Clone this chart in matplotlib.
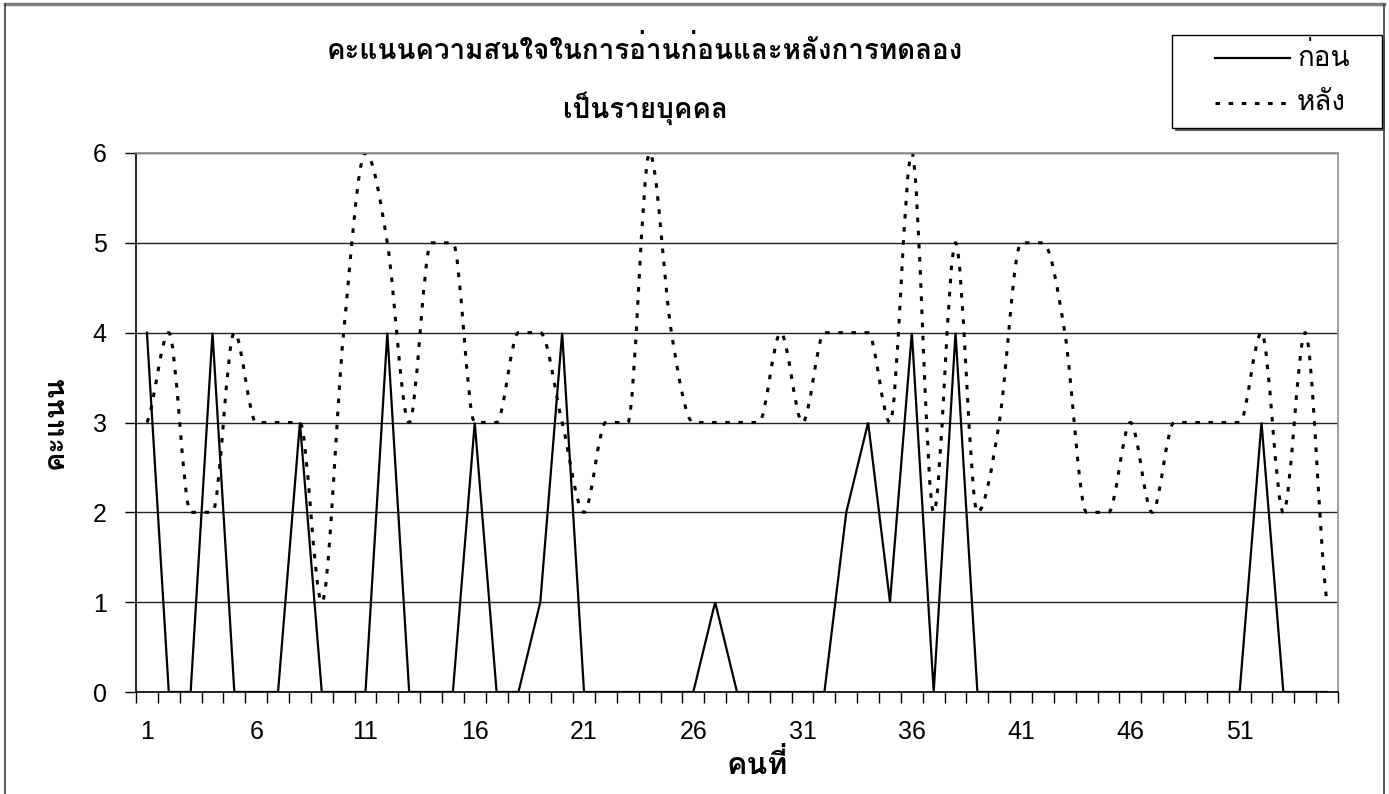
import numpy as np
import matplotlib
matplotlib.use('Agg')
import matplotlib.pyplot as plt
import matplotlib.font_manager as fm
from matplotlib.ft2font import FT2Font
from matplotlib.path import Path
from matplotlib.patches import PathPatch, Rectangle
from matplotlib.lines import Line2D

# ข้อมูล
person = list(range(1, 56))
before = [4, 0, 0, 4, 0, 0, 0, 3, 0, 0, 0, 4, 0, 0, 0, 3, 0, 0, 1, 4,
          0, 0, 0, 0, 0, 0, 1, 0, 0, 0, 0, 0, 2, 3, 1, 4, 0, 4, 0, 0,
          0, 0, 0, 0, 0, 0, 0, 0, 0, 0, 0, 3, 0, 0, 0]
after = [3, 4, 2, 2, 4, 3, 3, 3, 1, 4, 6, 5, 3, 5, 5, 3, 3, 4, 4, 3,
         2, 3, 3, 6, 4, 3, 3, 3, 3, 4, 3, 4, 4, 4, 3, 6, 2, 5, 2, 3,
         5, 5, 4, 2, 2, 3, 2, 3, 3, 3, 3, 4, 2, 4, 1]
xtick_labels = [1, 6, 11, 16, 21, 26, 31, 36, 41, 46, 51]
title = 'คะแนนความสนใจในการอ่านก่อนและหลังการทดลอง\nเป็นรายบุคคล'
legend_labels = ['ก่อน', 'หลัง']


# หา font ที่มีอักษรไทย
def find_thai_font():
    names = []
    for f in fm.fontManager.ttflist:
        try:
            cmap = FT2Font(f.fname).get_charmap()
        except Exception:
            continue
        if 0x0E01 in cmap and f.name not in names:
            names.append(f.name)
    return names


thai = find_thai_font()
plt.rcParams['font.family'] = thai + ['Liberation Sans', 'DejaVu Sans']
num_font = ['Liberation Sans', 'DejaVu Sans']


def smooth_path(x, y):
    # เส้นโค้งแบบ smoothed line ไม่ให้เกินจุดยอด
    x = np.asarray(x, float)
    y = np.asarray(y, float)
    n = len(x)
    d = np.diff(y) / np.diff(x)
    m = np.zeros(n)
    for i in range(1, n - 1):
        if d[i - 1] * d[i] > 0:
            s = (d[i - 1] + d[i]) / 2
            lim = 3 * min(abs(d[i - 1]), abs(d[i]))
            m[i] = np.sign(s) * min(abs(s), lim)
    m[0] = d[0] * 0.5
    m[-1] = d[-1] * 0.5
    verts = [(x[0], y[0])]
    codes = [Path.MOVETO]
    for i in range(n - 1):
        h = x[i + 1] - x[i]
        verts += [(x[i] + h / 3, y[i] + m[i] * h / 3),
                  (x[i + 1] - h / 3, y[i + 1] - m[i + 1] * h / 3),
                  (x[i + 1], y[i + 1])]
        codes += [Path.CURVE4] * 3
    return Path(verts, codes)


W, H = 1389, 794
fig = plt.figure(figsize=(W / 100, H / 100), dpi=100)
ax = fig.add_axes([136 / W, 1 - 692 / H, (1338 - 136) / W, (692 - 153) / H])

# กรอบนอก
fig.add_artist(Line2D([5 / W, 1384 / W], [1 - 4 / H, 1 - 4 / H], color='#808080', lw=2.5))
fig.add_artist(Line2D([5 / W, 5 / W], [0, 1 - 4 / H], color='#404040', lw=1.2))
fig.add_artist(Line2D([1384 / W, 1384 / W], [0, 1 - 4 / H], color='#404040', lw=1.2))

ax.plot(person, before, color='black', lw=1.6, solid_joinstyle='miter')
dotted = (0, (1.5, 2.8))
ax.add_patch(PathPatch(smooth_path(person, after), fill=False, edgecolor='black',
                       lw=2.2, linestyle=dotted))

ax.set_xlim(0.5, 55.5)
ax.set_ylim(0, 6)
ax.set_yticks(range(0, 7))
ax.set_yticklabels([str(v) for v in range(0, 7)], family=num_font)
ax.set_xticks(xtick_labels)
ax.set_xticklabels([str(v) for v in xtick_labels], family=num_font)
ax.set_xticks(np.arange(0.5, 56, 1), minor=True)
ax.tick_params(axis='x', which='major', length=0, labelsize=18, pad=20)
ax.tick_params(axis='x', which='minor', length=8, width=1, direction='out')
ax.tick_params(axis='y', length=8, width=1, labelsize=18, pad=13)
ax.yaxis.grid(True, color='#222222', lw=1)
ax.set_axisbelow(True)

for s in ['left', 'bottom']:
    ax.spines[s].set_color('black')
    ax.spines[s].set_linewidth(1.2)
for s in ['top', 'right']:
    ax.spines[s].set_color('#909090')
    ax.spines[s].set_linewidth(1.2)

ax.set_xlabel('คนที่', fontsize=22, fontweight='bold')
ax.xaxis.set_label_coords((757 - 136) / 1202, -(765 - 692) / 539)
ax.xaxis.label.set_va('center')
ax.set_ylabel('คะแนน', fontsize=21, fontweight='bold')
ax.yaxis.set_label_coords(-(136 - 55) / 1202, 0.5)
ax.yaxis.label.set_va('center')
fig.text(645 / W, 1 - 80 / H, title, ha='center', va='center', fontsize=20,
         fontweight='bold', linespacing=2.0)

# คำอธิบายสัญลักษณ์
fig.add_artist(Rectangle((1175 / W, 1 - 131 / H), 210 / W, 93 / H, transform=fig.transFigure,
                         facecolor='#606060', edgecolor='none'))
fig.add_artist(Rectangle((1172 / W, 1 - 128 / H), 210 / W, 93 / H, transform=fig.transFigure,
                         facecolor='white', edgecolor='black', lw=1.0))
legend_y = [58, 103]
legend_style = ['-', dotted]
legend_lw = [1.6, 2.2]
for lab, yy, ls, lw in zip(legend_labels, legend_y, legend_style, legend_lw):
    fig.add_artist(Line2D([1215 / W, 1290 / W], [1 - yy / H, 1 - yy / H], color='black',
                          lw=lw, linestyle=ls))
    fig.text(1297 / W, 1 - yy / H, lab, ha='left', va='center', fontsize=20)

fig.savefig('out.png', dpi=100)
